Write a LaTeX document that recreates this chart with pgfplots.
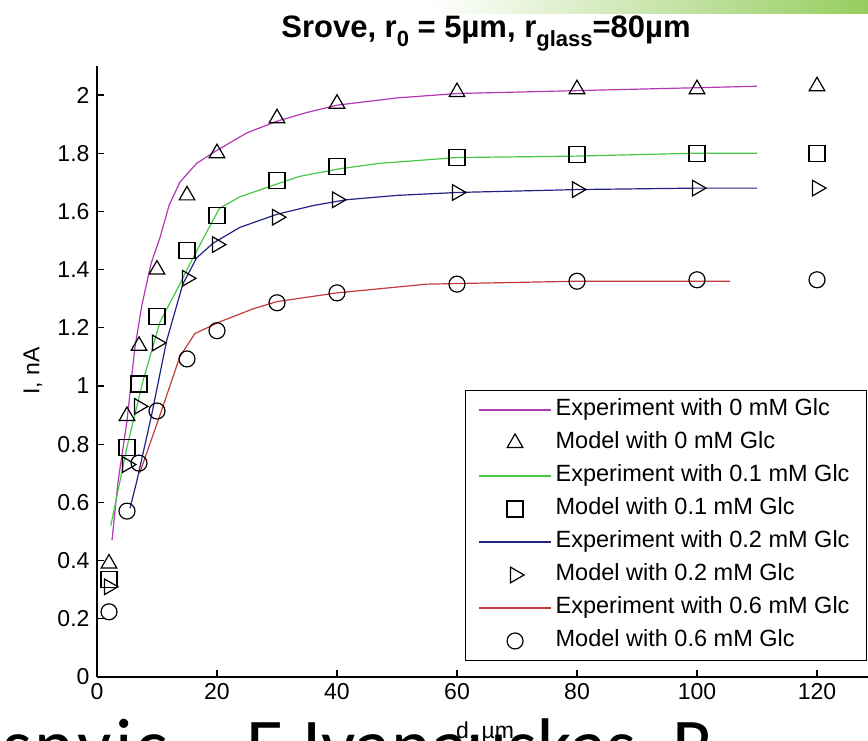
\documentclass[border=0pt]{standalone}
\usepackage{fontspec}
\setmainfont{Liberation Sans}
\newfontfamily\slidefont{Carlito}
\usepackage{pgfplots}
\pgfplotsset{compat=1.18}

\definecolor{cMag}{RGB}{180,55,180}
\definecolor{cGrn}{RGB}{70,200,70}
\definecolor{cBlu}{RGB}{35,35,135}
\definecolor{cRed}{RGB}{195,60,60}
\definecolor{barGreen}{RGB}{150,205,95}

\newcommand{\sub}[1]{\raisebox{-9pt}{\fontsize{22}{22}\selectfont #1}}

\begin{document}
\begin{tikzpicture}[x=1pt,y=1pt]
% accent bar of the slide
\shade[left color=white, right color=barGreen] (430,727) rectangle (868,741);

\begin{axis}[
  at={(97pt,64pt)}, anchor=south west,
  x=6pt, y=291pt,
  xmin=0, xmax=128.5, ymin=0, ymax=2.1,
  axis lines=left,
  axis line style={-, line width=1.1pt},
  tick align=inside,
  major tick length=7pt,
  tick style={line width=1.1pt, black},
  xtick={0,20,40,60,80,100,120},
  ytick={0,0.2,0.4,0.6,0.8,1,1.2,1.4,1.6,1.8,2},
  /pgf/number format/assume math mode=true,
  yticklabel style={/pgf/number format/fixed, xshift=-4pt},
  xticklabel style={yshift=-3pt},
  tick label style={font=\fontsize{23}{27}\selectfont},
  clip=false,
  legend cell align=left,
  legend style={
    at={(0.9987,0.4697)}, anchor=north east,
    draw=black, line width=1pt,
    font=\fontsize{23.5}{27}\selectfont,
    inner xsep=13pt, inner ysep=3pt,
    nodes={text height=17pt, text depth=5pt, inner ysep=5.5pt, inner xsep=4pt},
    row sep=0pt,
  },
  legend image code/.code={%
    \draw[mark repeat=2,mark phase=2,#1]
      plot coordinates {(0pt,0pt) (36pt,0pt) (72pt,0pt)};},
]

% 0 mM glucose
\addplot[cMag, line width=1.2pt] coordinates {
  (2.5,0.47) (3.5,0.67) (5,0.88) (6.3,1.13) (7.5,1.28) (9,1.42) (10.5,1.51)
  (12,1.62) (13.8,1.70) (16.6,1.765) (20,1.81) (25,1.87) (30,1.91) (35,1.94)
  (40,1.965) (50,1.99) (60,2.005) (70,2.01) (80,2.015) (90,2.02) (100,2.025) (110,2.03)};
\addlegendentry{Experiment with 0 mM Glc}
\addplot[only marks, black, mark=triangle, mark size=9pt, mark options={line width=1.2pt}] coordinates {
  (2,0.39) (5,0.897) (7,1.138) (10,1.40) (15,1.655) (20,1.80) (30,1.92)
  (40,1.97) (60,2.01) (80,2.02) (100,2.02) (120,2.03)};
\addlegendentry{Model with 0 mM Glc}

% 0.1 mM glucose
\addplot[cGrn, line width=1.2pt] coordinates {
  (2.3,0.52) (5,0.79) (7.7,1.02) (10.5,1.22) (13.3,1.33) (15.5,1.42) (18.3,1.53)
  (20.4,1.61) (23.8,1.65) (28,1.68) (33.7,1.72) (40,1.745) (47,1.765) (60,1.785)
  (80,1.79) (90,1.795) (100,1.80) (110,1.80)};
\addlegendentry{Experiment with 0.1 mM Glc}
\addplot[only marks, black, mark=square, mark size=8pt, mark options={line width=1.2pt}] coordinates {
  (2,0.335) (5,0.79) (7,1.007) (10,1.24) (15,1.466) (20,1.586) (30,1.707)
  (40,1.755) (60,1.786) (80,1.795) (100,1.80) (120,1.80)};
\addlegendentry{Model with 0.1 mM Glc}

% 0.2 mM glucose
\addplot[cBlu, line width=1.2pt] coordinates {
  (5.5,0.58) (6.6,0.67) (9.1,0.90) (11.6,1.155) (14.3,1.35) (16.6,1.44) (19.3,1.49)
  (23.8,1.545) (30,1.59) (36,1.62) (41.5,1.64) (50,1.655) (60,1.665) (80,1.675)
  (100,1.68) (110,1.68)};
\addlegendentry{Experiment with 0.2 mM Glc}
\addplot[only marks, black, mark=triangle, mark size=9pt, mark options={rotate=-90, line width=1.2pt}] coordinates {
  (2,0.31) (5,0.73) (7,0.93) (10,1.148) (15,1.37) (20,1.486) (30,1.58)
  (40,1.64) (60,1.665) (80,1.675) (100,1.68) (120,1.68)};
\addlegendentry{Model with 0.2 mM Glc}

% 0.6 mM glucose
\addplot[cRed, line width=1.2pt] coordinates {
  (7.1,0.70) (10.5,0.90) (13.8,1.10) (16.3,1.18) (20.4,1.22) (26,1.265) (30,1.29)
  (40,1.32) (55,1.35) (80,1.36) (105.5,1.36)};
\addlegendentry{Experiment with 0.6 mM Glc}
\addplot[only marks, black, mark=o, mark size=8pt, mark options={line width=1.2pt}] coordinates {
  (2,0.224) (5,0.57) (7,0.735) (10,0.914) (15,1.093) (20,1.19) (30,1.286)
  (40,1.32) (60,1.35) (80,1.36) (100,1.365) (120,1.365)};
\addlegendentry{Model with 0.6 mM Glc}
\end{axis}

% titles and axis names
\node[anchor=base] at (486,703)
  {\fontsize{31}{36}\selectfont\bfseries Srove, r\sub{0} = 5\textmu m, r\sub{glass}=80\textmu m};
\node[rotate=90, anchor=center] at (33,370) {\fontsize{23}{27}\selectfont I, nA};
\node[anchor=base] at (485,2) {\fontsize{23}{27}\selectfont d, \textmu m};

% slide caption running under the figure
\node[anchor=base west, inner sep=0pt] at (2,-31) {\slidefont\fontsize{76}{80}\selectfont s\kern3pt n\kern3pt v\kern3pt i\kern3pt c};
\node[anchor=base west, inner sep=0pt] at (246,-31) {\slidefont\fontsize{76}{80}\selectfont E.Ivanauskas, R};

\pgfresetboundingbox
\path[use as bounding box] (0,0) rectangle (868,741);
\end{tikzpicture}
\end{document}
